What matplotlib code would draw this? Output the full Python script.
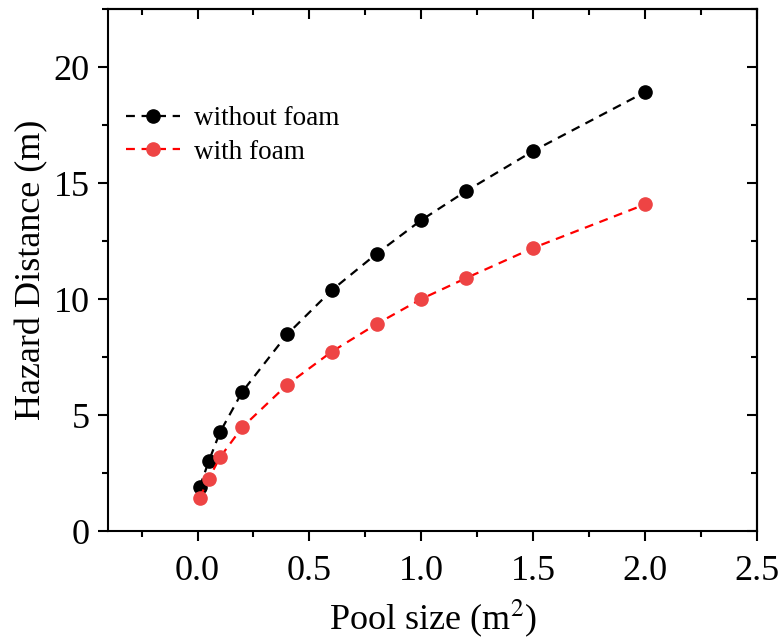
import matplotlib.pyplot as plt
from matplotlib.ticker import MultipleLocator, FormatStrFormatter

plt.rcParams["font.family"] = ["Liberation Serif", "DejaVu Serif"]
plt.rcParams["mathtext.fontset"] = "stix"

# ---------- data ----------
pool_size = [0.01, 0.05, 0.1, 0.2, 0.4, 0.6, 0.8, 1.0, 1.2, 1.5, 2.0]
without_foam = [1.9, 3.0, 4.25, 6.0, 8.47, 10.38, 11.95, 13.4, 14.65, 16.38, 18.92]
with_foam = [1.44, 2.25, 3.17, 4.47, 6.3, 7.73, 8.92, 10.0, 10.9, 12.2, 14.08]

fig = plt.figure(figsize=(7.78, 6.42), dpi=100)
ax = fig.add_axes([108 / 778, 1 - 531 / 642, 649 / 778, 522 / 642])

ax.plot(pool_size, without_foam, ls="--", color="black", lw=1.6,
        marker="o", ms=9.5, mfc="black", mec="black", dashes=(4, 3),
        label="without foam")
ax.plot(pool_size, with_foam, ls="--", color="red", lw=1.6,
        marker="o", ms=9.5, mfc="#ee4444", mec="#ee4444", dashes=(4, 3),
        label="with foam")

ax.set_xlim(-0.4, 2.5)
ax.set_ylim(0, 22.5)
ax.xaxis.set_major_locator(MultipleLocator(0.5))
ax.xaxis.set_minor_locator(MultipleLocator(0.25))
ax.yaxis.set_major_locator(MultipleLocator(5))
ax.yaxis.set_minor_locator(MultipleLocator(2.5))
ax.xaxis.set_major_formatter(FormatStrFormatter("%.1f"))

for s in ax.spines.values():
    s.set_linewidth(1.5)
ax.tick_params(which="both", direction="out", labelsize=26, width=1.5)
ax.tick_params(which="major", length=7, pad=6)
ax.tick_params(axis="x", which="major", pad=10)
ax.tick_params(which="minor", length=4)

# mirrored ticks on top and right, pointing inward
top = ax.secondary_xaxis("top")
right = ax.secondary_yaxis("right")
top.xaxis.set_major_locator(MultipleLocator(0.5))
top.xaxis.set_minor_locator(MultipleLocator(0.25))
right.yaxis.set_major_locator(MultipleLocator(5))
right.yaxis.set_minor_locator(MultipleLocator(2.5))
for sec in (top, right):
    sec.tick_params(which="both", direction="in", width=1.5,
                    labeltop=False, labelright=False)
    sec.tick_params(which="major", length=7)
    sec.tick_params(which="minor", length=4)
    for s in sec.spines.values():
        s.set_linewidth(1.5)

ax.set_xlabel("Pool size (m$^2$)", fontsize=26, labelpad=7)
ax.set_ylabel("Hazard Distance (m)", fontsize=26, labelpad=4)

ax.legend(loc="upper left", bbox_to_anchor=(-0.01, 0.86), frameon=False,
          fontsize=19.5, handlelength=2.0, handletextpad=0.5,
          labelspacing=0.3)

fig.savefig("out.png", dpi=100)
